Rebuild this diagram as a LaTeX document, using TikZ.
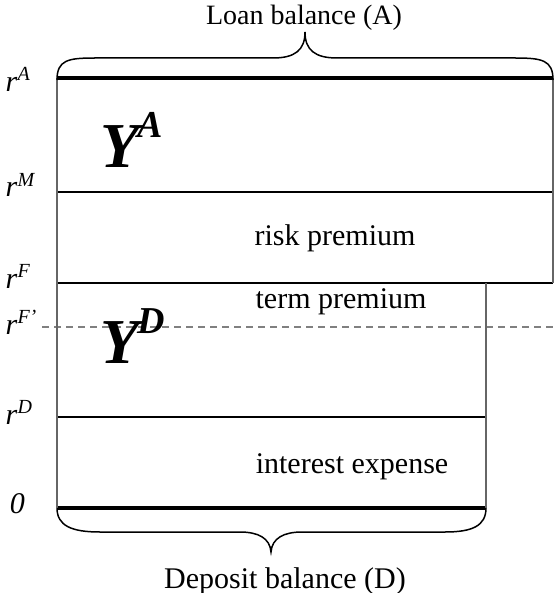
\documentclass[tikz,border=0pt]{standalone}
\usepackage{fontspec}
\setmainfont{Liberation Serif}
\newcommand{\rlab}[1]{\textit{r}\raisebox{5.5pt}{\fontsize{10}{10}\selectfont\itshape #1}}
\newcommand{\bigY}[1]{{\fontsize{32}{32}\selectfont\bfseries\itshape Y}\kern-1pt\raisebox{15pt}{\fontsize{19}{19}\selectfont\bfseries\itshape #1}}
\tikzset{
  lbl/.style={anchor=base west, inner sep=0, font=\fontsize{15}{15}\selectfont},
  txt/.style={anchor=base, inner sep=0, font=\fontsize{15}{15}\selectfont},
  side/.style={draw=black!60, line width=1pt},
  thick line/.style={line width=2pt},
}
\begin{document}
\begin{tikzpicture}[x=0.5pt,y=-0.5pt,line width=0.75pt]
\useasboundingbox (0,0) rectangle (556,593);

% levels
\draw [thick line] (57,78) -- (553,78);
\draw  (57,192) -- (553,192);
\draw  (57,283) -- (553,283);
\draw  (57,417) -- (486,417);
\draw [thick line] (57,508) -- (486,508);
\draw [gray, dash pattern=on 3.5pt off 2.5pt] (42,327) -- (556,327);

% sides
\draw [side] (57,78) -- (57,508);
\draw [side] (553,78) -- (553,283);
\draw [side] (486,283) -- (486,508);

% braces
\draw (57,80) .. controls (57,60) and (68,58) .. (95,58) -- (273,58)
  .. controls (295,58) and (305,50) .. (305,32)
  .. controls (305,50) and (315,58) .. (337,58) -- (515,58)
  .. controls (542,58) and (553,60) .. (553,80);
\draw (57,508) .. controls (57,526) and (72,532) .. (100,532) -- (240,532)
  .. controls (258,532) and (270,538) .. (271,552)
  .. controls (272,538) and (284,532) .. (302,532) -- (445,532)
  .. controls (472,532) and (486,526) .. (486,508);

\node [txt, font=\fontsize{14}{14}\selectfont] (loan) at (304,25) {Loan balance (A)};
\node [txt] (deposit) at (285,588) {Deposit balance (D)};

% rates
\node [lbl] (rA) at (5,92) {\rlab{A}};
\node [lbl] (rM) at (5,197) {\rlab{M}};
\node [lbl] (rF) at (5,288) {\rlab{F}};
\node [lbl] (rFp) at (5,334) {\rlab{F’}};
\node [lbl] (rD) at (5,424) {\rlab{D}};
\node [lbl] (zero) at (9,513) {\textit{0}};

\node [anchor=base west, inner sep=0] (YA) at (100,168) {\bigY{A}};
\node [anchor=base west, inner sep=0] (YD) at (100,363) {\bigY{D}};

\node [txt] (risk) at (335,245) {risk premium};
\node [txt] (term) at (341,308) {term premium};
\node [txt] (interest) at (352,473) {interest expense};
\end{tikzpicture}
\end{document}
